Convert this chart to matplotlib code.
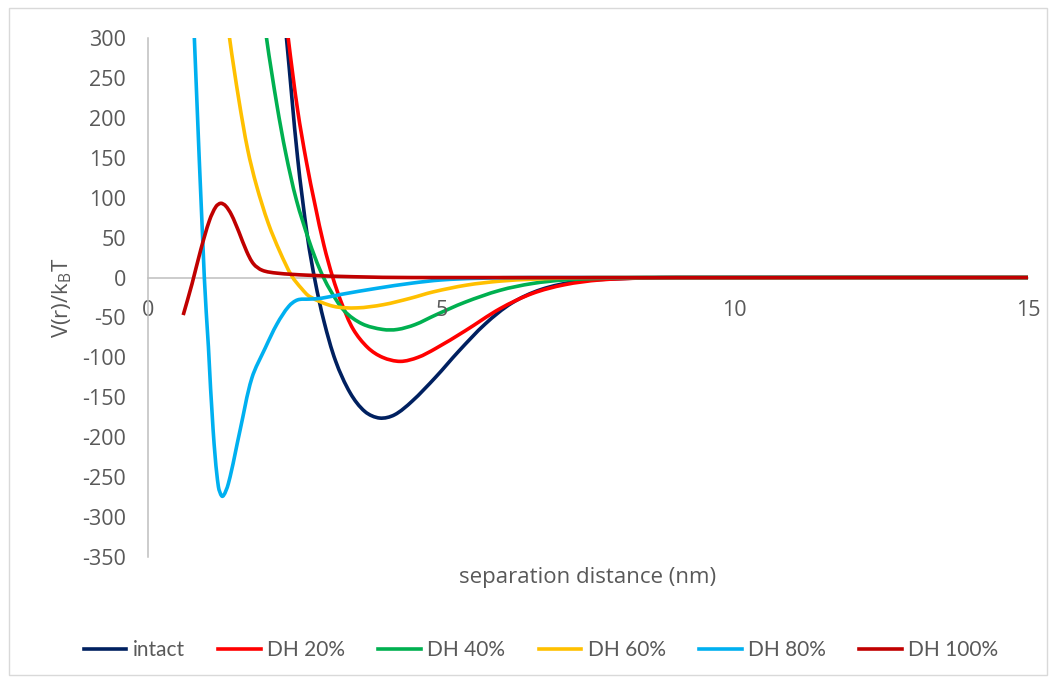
import matplotlib
matplotlib.use("Agg")
import matplotlib.pyplot as plt
from matplotlib.path import Path
from matplotlib.patches import PathPatch, Rectangle
from matplotlib.lines import Line2D
import numpy as np

# Interaction energy V(r)/kBT versus separation distance (nm)
intact_x = [2.20, 2.36, 2.55, 2.72, 2.85, 3.00, 3.20, 3.45, 3.70, 3.95, 4.20, 4.50,
            4.90, 5.30, 5.75, 6.20, 6.70, 7.30, 8.0, 9.0, 15.0]
intact_y = [420, 300, 150, 50, -5, -55, -105, -145, -168, -176, -172, -155,
            -125, -92, -58, -32, -15, -5, -1.5, 0, 0]

dh20_x = [2.20, 2.39, 2.55, 2.70, 2.85, 3.00, 3.15, 3.30, 3.50, 3.75, 4.00, 4.30,
          4.60, 4.90, 5.40, 6.00, 6.55, 7.10, 7.70, 8.5, 9.5, 15.0]
dh20_y = [420, 300, 210, 145, 90, 40, 0, -32, -65, -88, -100, -105,
          -100, -89, -67, -39, -20, -9, -3, -0.5, 0, 0]

dh40_x = [1.85, 2.02, 2.20, 2.35, 2.53, 2.75, 2.93, 3.10, 3.35, 3.65, 4.00, 4.25,
          4.55, 4.90, 5.40, 6.00, 6.55, 7.10, 8.0, 9.0, 15.0]
dh40_y = [400, 300, 215, 155, 97, 45, 10, -15, -42, -58, -65, -65,
          -59, -47, -31, -16, -7.5, -3, -0.5, 0, 0]

dh60_x = [1.22, 1.39, 1.55, 1.70, 1.85, 2.05, 2.25, 2.45, 2.62, 2.76, 3.16, 3.56,
          4.01, 4.47, 4.86, 5.43, 6.0, 6.57, 7.2, 8.0, 15.0]
dh60_y = [400, 300, 222, 160, 115, 68, 32, 2, -14, -24, -36, -38,
          -34, -26, -18, -9.5, -4.5, -2, -0.5, 0, 0]

dh80_x = [0.72, 0.79, 0.96, 1.03, 1.11, 1.20, 1.27, 1.37, 1.57, 1.77, 2.00, 2.20,
          2.40, 2.55, 2.75, 2.95, 3.30, 3.90, 4.50, 5.00, 5.60, 6.5, 15.0]
dh80_y = [420, 300, 0, -87, -191, -262, -274, -258, -191, -126, -88, -58,
          -36, -28, -27, -26, -21, -13.5, -7, -3, -1, 0, 0]

dh100_x = [0.60, 0.75, 0.90, 1.05, 1.16, 1.24, 1.32, 1.42, 1.55, 1.68, 1.80, 1.95,
           2.20, 2.70, 3.5, 4.5, 15.0]
dh100_y = [-47, -8, 35, 72, 89, 93, 90, 79, 57, 33, 17, 9,
           5.5, 3, 1, 0, 0]

series_names = ["intact", "DH 20%", "DH 40%", "DH 60%", "DH 80%", "DH 100%"]
series_x = [intact_x, dh20_x, dh40_x, dh60_x, dh80_x, dh100_x]
series_y = [intact_y, dh20_y, dh40_y, dh60_y, dh80_y, dh100_y]
colors = ["#002060", "#FF0000", "#00B050", "#FFC000", "#00B0F0", "#C00000"]

x_ticks = [0, 5, 10, 15]
y_ticks = [300, 250, 200, 150, 100, 50, 0, -50, -100, -150, -200, -250, -300, -350]

text_color = "#595959"
axis_color = "#BFBFBF"
font = "Open Sans"

fig = plt.figure(figsize=(10.56, 6.83), dpi=100)
ax = fig.add_axes([148 / 1056, 1 - 557 / 683, 880 / 1056, 519 / 683])
ax.set_xlim(0, 15)
ax.set_ylim(-350, 300)


def smooth_path(ax, xs, ys):
    """Bezier path through the data points (chord-length Catmull-Rom)."""
    pts = np.column_stack([xs, ys]).astype(float)
    disp = ax.transData.transform(pts)
    n = len(pts)
    seg = np.linalg.norm(np.diff(disp, axis=0), axis=1)
    tang = np.zeros_like(pts)
    for i in range(n):
        if i == 0:
            tang[i] = (pts[1] - pts[0]) / seg[0]
        elif i == n - 1:
            tang[i] = (pts[-1] - pts[-2]) / seg[-1]
        else:
            tang[i] = (pts[i + 1] - pts[i - 1]) / (seg[i - 1] + seg[i])
    verts = [pts[0]]
    codes = [Path.MOVETO]
    for i in range(n - 1):
        c1 = pts[i] + tang[i] * seg[i] / 3
        c2 = pts[i + 1] - tang[i + 1] * seg[i] / 3
        verts += [c1, c2, pts[i + 1]]
        codes += [Path.CURVE4] * 3
    return Path(verts, codes)


for xs, ys, c in zip(series_x, series_y, colors):
    patch = PathPatch(smooth_path(ax, xs, ys), facecolor="none", edgecolor=c,
                      lw=2.6, capstyle="butt", joinstyle="round")
    ax.add_patch(patch)

# axes styling
for side in ["top", "right"]:
    ax.spines[side].set_visible(False)
ax.spines["left"].set_color(axis_color)
ax.spines["left"].set_linewidth(1.1)
ax.spines["bottom"].set_color(axis_color)
ax.spines["bottom"].set_linewidth(1.1)
ax.spines["bottom"].set_position(("data", 0))
ax.spines["bottom"].set_zorder(0.5)

ax.set_xticks(x_ticks)
ax.set_yticks(y_ticks)
ax.set_xticklabels([str(v) for v in x_ticks])
ax.set_yticklabels([str(v) for v in y_ticks])
ax.tick_params(axis="both", length=0, labelsize=15.5, labelcolor=text_color)
ax.tick_params(axis="y", pad=16)
ax.tick_params(axis="x", pad=16)
for lab in ax.get_xticklabels() + ax.get_yticklabels():
    lab.set_fontfamily(font)

fig.text(62 / 1056, 1 - 298 / 683, r"V(r)/k$_\mathregular{B}$T", rotation=90,
         ha="center", va="center", fontsize=16, color=text_color, family=font)
fig.text(588 / 1056, 1 - 578 / 683, "separation distance (nm)",
         ha="center", va="center", fontsize=16, color=text_color, family=font)

handles = [Line2D([], [], color=c, lw=2.6) for c in colors]
fig.legend(handles, series_names, loc="center", ncol=6,
           bbox_to_anchor=(541 / 1056, 1 - 650 / 683), frameon=False,
           prop={"family": "Lato", "size": 15}, labelcolor=text_color,
           handlelength=2.05, handletextpad=0.3, columnspacing=1.6)

fig.patches.append(Rectangle((9 / 1056, 8 / 683), 1038 / 1056, 667 / 683,
                             transform=fig.transFigure, fill=False,
                             edgecolor="#D9D9D9", lw=1))

fig.savefig("out.png", dpi=100)
